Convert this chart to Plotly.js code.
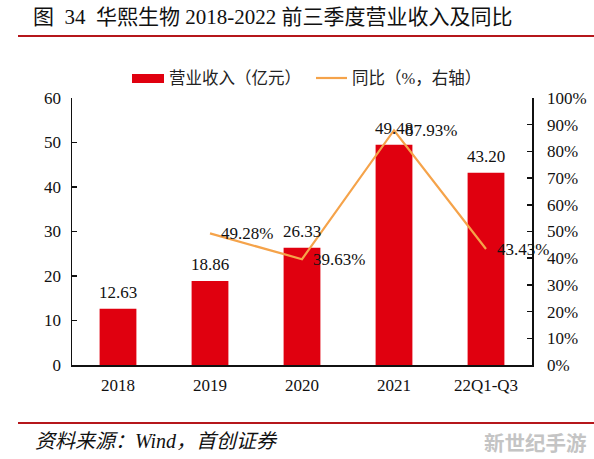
<!DOCTYPE html>
<html>
<head>
<meta charset="utf-8">
<script src="https://cdn.plot.ly/plotly-3.0.1.min.js"></script>
<style>html,body{margin:0;padding:0;background:#fff;}#chart{width:594px;height:459px;}</style>
</head>
<body>
<div id="chart"></div>
<script>
var categories = ['2018', '2019', '2020', '2021', '22Q1-Q3'];
var revenue = [12.63, 18.86, 26.33, 49.48, 43.20];
var yoyCategories = ['2019', '2020', '2021', '22Q1-Q3'];
var yoy = [49.28, 39.63, 87.93, 43.43];
var leftTicks = [0, 10, 20, 30, 40, 50, 60];
var rightTicks = [0, 10, 20, 30, 40, 50, 60, 70, 80, 90, 100];
var rightTickText = ['0%', '10%', '20%', '30%', '40%', '50%', '60%', '70%', '80%', '90%', '100%'];

var SERIF = 'Liberation Serif, Times New Roman, Noto Sans CJK SC, serif';
var CJK = 'Liberation Serif, Noto Sans CJK SC, serif';
var FS = 17;
var L = 72, R = 532, T = 98, B = 365;
function px(x){ return (x - L) / (R - L); }
function py(y){ return (B - y) / (B - T); }

var traces = [
  {
    type: 'bar', x: categories, y: revenue, name: '营业收入（亿元）',
    marker: {color: '#E0000F'},
    hoverinfo: 'skip'
  },
  {
    type: 'scatter', mode: 'lines', x: yoyCategories, y: yoy, yaxis: 'y2',
    name: '同比（%，右轴）',
    line: {color: '#F5A34A', width: 2.2},
    hoverinfo: 'skip'
  }
];

var annotations = [
  {xref: 'paper', yref: 'paper', x: px(31), y: py(17), xanchor: 'left', yanchor: 'middle',
   showarrow: false, text: '图  34  华熙生物 2018-2022 前三季度营业收入及同比',
   font: {family: CJK, size: 21, color: '#111'}},
  {xref: 'paper', yref: 'paper', x: px(167), y: py(78), xanchor: 'left', yanchor: 'middle',
   showarrow: false, text: '营业收入（亿元）', font: {family: CJK, size: 16.5, color: '#222'}},
  {xref: 'paper', yref: 'paper', x: px(350), y: py(78), xanchor: 'left', yanchor: 'middle',
   showarrow: false, text: '同比（%，右轴）', font: {family: CJK, size: 16.5, color: '#222'}},
  {xref: 'paper', yref: 'paper', x: px(33), y: py(441), xanchor: 'left', yanchor: 'middle',
   showarrow: false, text: '<i>资料来源：Wind，首创证券</i>', font: {family: CJK, size: 20, color: '#111'}},
  {xref: 'paper', yref: 'paper', x: px(589), y: py(442), xanchor: 'right', yanchor: 'middle',
   showarrow: false, text: '<b>新世纪手游</b>', font: {family: 'Noto Sans CJK SC, sans-serif', size: 20.5, color: '#C4C4C4'}}
];
categories.forEach(function(c, i){
  annotations.push({x: i, y: revenue[i], xref: 'x', yref: 'y', xanchor: 'center', yanchor: 'bottom',
    yshift: 5, showarrow: false, text: revenue[i].toFixed(2),
    font: {family: SERIF, size: FS, color: '#111'}});
});
yoyCategories.forEach(function(c, i){
  annotations.push({x: categories.indexOf(c), y: yoy[i], xref: 'x', yref: 'y2', xanchor: 'left', yanchor: 'middle',
    xshift: 9, showarrow: false, text: yoy[i].toFixed(2) + '%',
    font: {family: SERIF, size: FS, color: '#111'}});
});

var layout = {
  width: 594, height: 459,
  margin: {l: L, r: 594 - R, t: T, b: 459 - B},
  paper_bgcolor: '#fff', plot_bgcolor: '#fff',
  showlegend: false,
  bargap: 0.6,
  font: {family: SERIF, size: FS, color: '#111'},
  xaxis: {
    type: 'category', categoryorder: 'array', categoryarray: categories,
    range: [-0.5, categories.length - 0.5],
    showline: true, linecolor: '#111', linewidth: 1.5,
    ticks: '', showgrid: false, zeroline: false,
    tickfont: {family: SERIF, size: FS, color: '#111'},
    ticklabelstandoff: 4
  },
  yaxis: {
    range: [0, 60], tickvals: leftTicks, showline: true, linecolor: '#111', linewidth: 1.5,
    ticks: 'inside', ticklen: 5, tickwidth: 1.5, tickcolor: '#111',
    showgrid: false, zeroline: false,
    tickfont: {family: SERIF, size: FS, color: '#111'},
    ticklabelstandoff: 6
  },
  yaxis2: {
    overlaying: 'y', side: 'right', range: [0, 100], tickvals: rightTicks, ticktext: rightTickText,
    showline: true, linecolor: '#111', linewidth: 1.5,
    ticks: 'inside', ticklen: 5, tickwidth: 1.5, tickcolor: '#111',
    showgrid: false, zeroline: false,
    tickfont: {family: SERIF, size: FS, color: '#111'},
    ticklabelstandoff: 10
  },
  shapes: [
    {type: 'line', xref: 'paper', yref: 'paper', x0: px(18), x1: px(594), y0: py(36), y1: py(36),
     line: {color: '#B5161B', width: 2}},
    {type: 'line', xref: 'paper', yref: 'paper', x0: px(18), x1: px(594), y0: py(423), y1: py(423),
     line: {color: '#B5161B', width: 2}},
    {type: 'rect', xref: 'paper', yref: 'paper', x0: px(132), x1: px(164), y0: py(83), y1: py(74),
     fillcolor: '#E0000F', line: {width: 0}},
    {type: 'line', xref: 'paper', yref: 'paper', x0: px(316), x1: px(347), y0: py(78), y1: py(78),
     line: {color: '#F5A34A', width: 2.2}}
  ],
  annotations: annotations
};

Plotly.newPlot('chart', traces, layout, {staticPlot: true, displayModeBar: false});
</script>
</body>
</html>
